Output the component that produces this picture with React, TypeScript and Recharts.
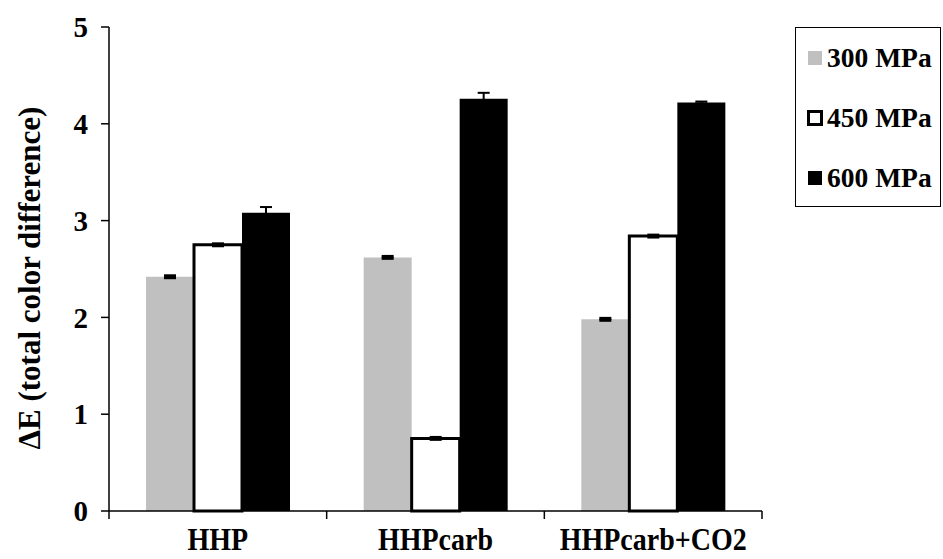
import React from 'react';
import { BarChart, Bar, XAxis, YAxis, ErrorBar } from 'recharts';

const categories = ['HHP', 'HHPcarb', 'HHPcarb+CO2'];
const series300 = [2.42, 2.62, 1.98];
const series450 = [2.75, 0.75, 2.84];
const series600 = [3.08, 4.26, 4.22];
const err300 = [0.01, 0.01, 0.01];
const err450 = [0.01, 0.01, 0.01];
const err600 = [0.06, 0.06, 0.01];
const yTicks = [0, 1, 2, 3, 4, 5];
const seriesNames = ['300 MPa', '450 MPa', '600 MPa'];

const data = categories.map((c, i) => ({
  name: c,
  p300: series300[i],
  p450: series450[i],
  p600: series600[i],
  e300: err300[i],
  e450: err450[i],
  e600: err600[i],
}));

const W = 943;
const H = 559;
const margin = { top: 27, right: 181, bottom: 0, left: 0 };
const Y_AXIS_W = 109;
const X_AXIS_H = 48;
const FONT = "'Liberation Serif', 'DejaVu Serif', serif";
const step = (W - margin.right - margin.left - Y_AXIS_W) / categories.length;

const XTick = (props: any) => {
  const { x, y, payload, index } = props;
  return (
    <g>
      <line x1={x - step / 2} y1={y} x2={x - step / 2} y2={y + 8} stroke="#000" strokeWidth={1.5} />
      {index === categories.length - 1 && (
        <line x1={x + step / 2} y1={y} x2={x + step / 2} y2={y + 8} stroke="#000" strokeWidth={1.5} />
      )}
      <text
        x={0}
        y={0}
        transform={`translate(${x},${y + 39}) scale(1,1.15)`}
        textAnchor="middle"
        style={{ fontFamily: FONT, fontWeight: 700, fontSize: 28 }}
        fill="#000"
      >
        {payload.value}
      </text>
    </g>
  );
};

const YLabel = () => (
  <text
    x={29}
    y={278}
    transform="rotate(-90 29 278)"
    textAnchor="middle"
    dominantBaseline="central"
    style={{ fontFamily: FONT, fontWeight: 700, fontSize: 31 }}
    fill="#000"
  >
    ΔE (total color difference)
  </text>
);

const legendSwatches = [
  { fill: '#c0c0c0', stroke: 'none' },
  { fill: '#fff', stroke: '#000' },
  { fill: '#000', stroke: 'none' },
];

const LegendBox = () => (
  <div
    style={{
      position: 'absolute',
      left: 795,
      top: 27,
      border: '1.5px solid #000',
      width: 146,
      height: 180,
      boxSizing: 'border-box',
      background: '#fff',
      fontFamily: FONT,
      fontWeight: 700,
      fontSize: 27.5,
      color: '#000',
    }}
  >
    {seriesNames.map((n, i) => (
      <div
        key={n}
        style={{
          position: 'absolute',
          left: 11,
          top: 13 + i * 60,
          height: 34,
          display: 'flex',
          alignItems: 'center',
          whiteSpace: 'nowrap',
        }}
      >
        <svg width={16} height={16} style={{ marginRight: 4 }}>
          <rect
            x={legendSwatches[i].stroke === 'none' ? 1 : 1.5}
            y={legendSwatches[i].stroke === 'none' ? 1 : 1.5}
            width={legendSwatches[i].stroke === 'none' ? 14 : 13}
            height={legendSwatches[i].stroke === 'none' ? 14 : 13}
            fill={legendSwatches[i].fill}
            stroke={legendSwatches[i].stroke}
            strokeWidth={3}
          />
        </svg>
        <span>{n}</span>
      </div>
    ))}
  </div>
);

export default function App() {
  return (
    <div style={{ position: 'absolute', left: 0, top: 0, width: W, height: H, background: '#fff', fontFamily: FONT }}>
      <BarChart width={W} height={H} data={data} margin={margin} barCategoryGap="17%" barGap={0}>
        <XAxis
          dataKey="name"
          height={X_AXIS_H}
          axisLine={{ stroke: '#000', strokeWidth: 1.5 }}
          tickLine={false}
          tickSize={0}
          tickMargin={0}
          tick={<XTick />}
          interval={0}
        />
        <YAxis
          width={Y_AXIS_W}
          domain={[0, 5]}
          ticks={yTicks}
          interval={0}
          axisLine={{ stroke: '#000', strokeWidth: 1.5 }}
          tickLine={{ stroke: '#000', strokeWidth: 1.5 }}
          tickSize={8}
          tickMargin={13}
          tick={{ fontFamily: FONT, fontWeight: 700, fontSize: 29, fill: '#000', style: { fontFamily: FONT } }}
          label={<YLabel />}
        />
        <Bar dataKey="p300" name={seriesNames[0]} fill="#c0c0c0" isAnimationActive={false}>
          <ErrorBar dataKey="e300" width={6} stroke="#000" strokeWidth={3} direction="y" />
        </Bar>
        <Bar dataKey="p450" name={seriesNames[1]} fill="#fff" stroke="#000" strokeWidth={3} isAnimationActive={false}>
          <ErrorBar dataKey="e450" width={6} stroke="#000" strokeWidth={3} direction="y" />
        </Bar>
        <Bar dataKey="p600" name={seriesNames[2]} fill="#000" isAnimationActive={false}>
          <ErrorBar dataKey="e600" width={6} stroke="#000" strokeWidth={2} direction="y" />
        </Bar>
      </BarChart>
      <LegendBox />
    </div>
  );
}
